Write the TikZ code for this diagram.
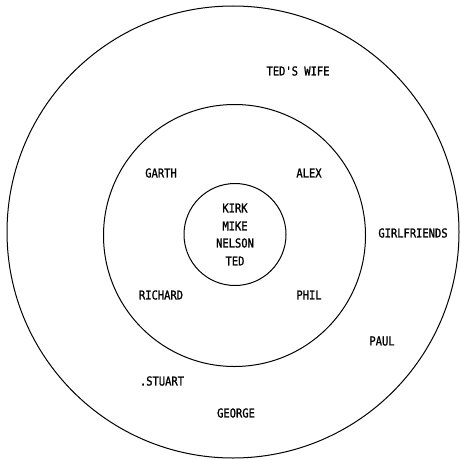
\documentclass[tikz,border=0pt]{standalone}
\usepackage{fontspec}
\newfontfamily\namefont[FakeStretch=0.85,FakeBold=1.2]{DejaVu Sans Mono}
\usetikzlibrary{positioning}

\tikzset{
  ring/.style={black,line width=1pt},
  person/.style={font=\namefont\fontsize{12.3}{14}\selectfont,inner sep=0pt}
}

\begin{document}
\begin{tikzpicture}[x=1pt,y=-1pt]
			\useasboundingbox (0,0) rectangle (459,460);
			% the three rings
			\draw[ring] (233,232) circle (226);
			\draw[ring] (234.5,235.5) circle (131);
			\draw[ring] (235,234.5) circle (51);
			% inner circle
			\foreach \n/\y in {KIRK/208,MIKE/226,NELSON/243,TED/261}
				\node[person] (\n) at (235,\y) {\n};
			% middle ring
			\node[person] (garth) at (161,173) {GARTH};
			\node[person] (alex) at (309,173) {ALEX};
			\node[person] (richard) at (161,295) {RICHARD};
			\node[person] (phil) at (309,295) {PHIL};
			% outer ring
			\node[person] (wife) at (298,71) {TED'S WIFE};
			\node[person] (girls) at (413,233) {GIRLFRIENDS};
			\node[person] (paul) at (382,341) {PAUL};
			\node[person] (stuart) at (162,381) {.STUART};
			\node[person] (george) at (236,413) {GEORGE};
		\end{tikzpicture}
\end{document}
